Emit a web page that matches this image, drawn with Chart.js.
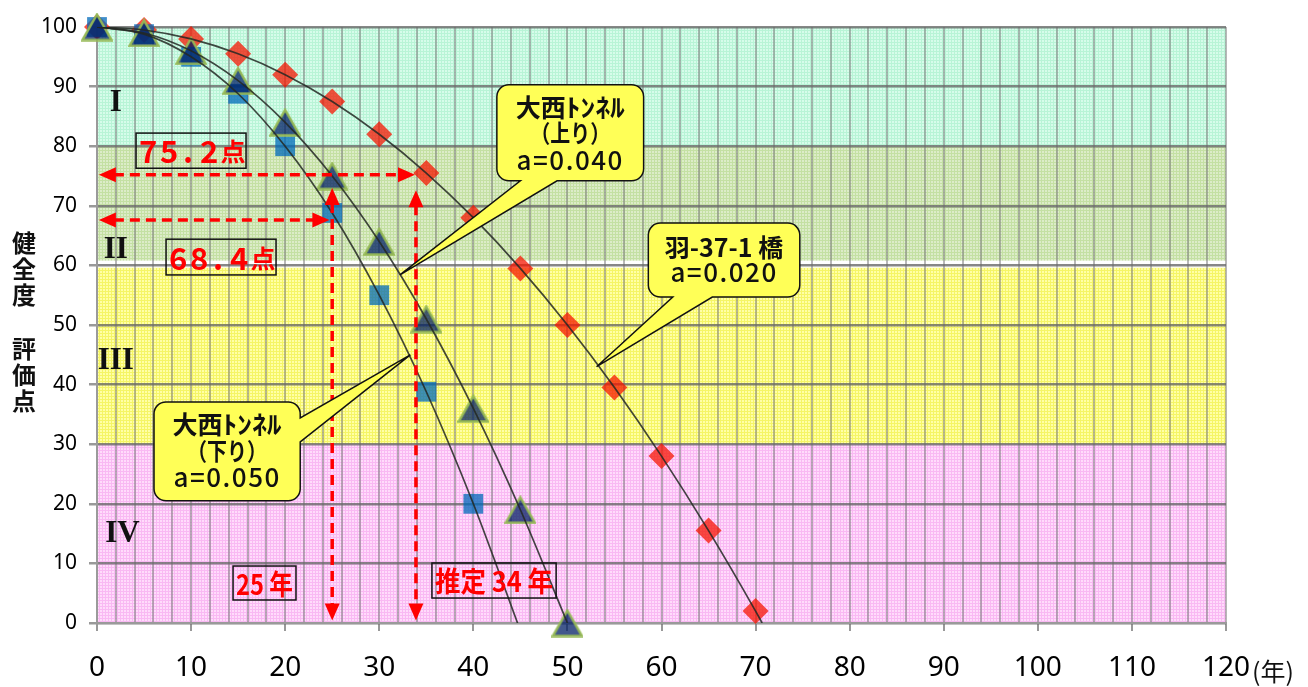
<!DOCTYPE html>
<html><head><meta charset="utf-8">
<script src="https://cdn.jsdelivr.net/npm/chart.js@4.4.1/dist/chart.umd.min.js"></script>
<style>html,body{margin:0;padding:0;background:#fff;}#wrap{width:1308px;height:687px;}</style>
</head><body><div id="wrap"><canvas id="c" width="1308" height="687"></canvas></div>
<script>
// ---- data ----
const years = [0,5,10,15,20,25,30,35,40,45,50,55,60,65,70];
const haneScores = [100,99.5,98,95.5,92,87.5,82,75.5,68,59.5,50,39.5,28,15.5,2];
const upYears = [0,5,10,15,20,25,30,35,40,45,50];
const upScores = [100,99,96,91,84,75,64,51,36,19,0];
const downYears = [0,5,10,15,20,25,30,35,40];
const downScores = [100,98.8,95,88.8,80,68.8,55,38.8,20];
const curveZeroYear = {hane: 70.7, down: 44.7};
const bandLabels = ['I','II','III','IV'];
const bandRanges = [[80,100],[60.8,80],[30,59.6],[0,30]];
const estimateScores = ['75.2','68.4'];
const estimateYears = ['25 年','推定 34 年'];
const calloutTexts = [
  [['大西','ﾄﾝﾈﾙ'],'（上り）','a=0.040'],
  [['羽-37-1 橋',''],'a=0.020'],
  [['大西','ﾄﾝﾈﾙ'],'（下り）','a=0.050']
];
const yTitle = ['健','全','度','評','価','点'];

function pts(xs, ys){ return xs.map((x,i)=>({x:x, y:ys[i]})); }
const haneCurve = pts(years, haneScores).concat([{x:curveZeroYear.hane, y:0}]);
const upCurve = pts(upYears, upScores);
const downCurve = pts(downYears, downScores).concat([{x:curveZeroYear.down, y:0}]);

// triangle marker image (centered like the original)
const tri = document.createElement('canvas');
tri.width = 32; tri.height = 29;
(function(){
  const g = tri.getContext('2d');
  g.beginPath(); g.moveTo(16,2); g.lineTo(30.5,27.5); g.lineTo(1.5,27.5); g.closePath();
  g.fillStyle = 'rgba(0,30,100,0.74)'; g.fill();
  g.lineWidth = 2.5; g.strokeStyle = 'rgba(150,185,85,0.95)'; g.stroke();
})();

const bandStyles = [
  {base:'#d6fcea', line:'#b8f4d6'},
  {base:'#dcecc8', line:'#c4e0a3'},
  {base:'#ffffa6', line:'#f5f566'},
  {base:'#ffdbfb', line:'#f9b9f3'}
];
function makePattern(ctx, base, line){
  const c = document.createElement('canvas'); c.width = 3; c.height = 3;
  const g = c.getContext('2d');
  g.fillStyle = base; g.fillRect(0,0,3,3);
  g.fillStyle = line; g.fillRect(0,0,3,1); g.fillRect(0,0,1,3);
  return ctx.createPattern(c, 'repeat');
}

function head(ctx, x, y, ang){
  const L = 17, W = 7.5;
  const bx = x - L*Math.cos(ang), by = y - L*Math.sin(ang);
  const px = -Math.sin(ang)*W, py = Math.cos(ang)*W;
  ctx.beginPath(); ctx.moveTo(x,y); ctx.lineTo(bx+px, by+py); ctx.lineTo(bx-px, by-py); ctx.closePath(); ctx.fill();
}
function arrow(ctx, x1, y1, x2, y2){
  const ang = Math.atan2(y2-y1, x2-x1), L = 15;
  ctx.save();
  ctx.strokeStyle = '#ff0000'; ctx.fillStyle = '#ff0000'; ctx.lineWidth = 3.5; ctx.setLineDash([10,6]);
  ctx.beginPath();
  ctx.moveTo(x1 + Math.cos(ang)*L, y1 + Math.sin(ang)*L);
  ctx.lineTo(x2 - Math.cos(ang)*L, y2 - Math.sin(ang)*L);
  ctx.stroke();
  ctx.setLineDash([]);
  head(ctx, x1, y1, ang + Math.PI);
  head(ctx, x2, y2, ang);
  ctx.restore();
}
function callout(ctx, x, y, w, h, r, side, a, b, tx, ty){
  ctx.beginPath();
  ctx.moveTo(x+r, y); ctx.lineTo(x+w-r, y); ctx.arcTo(x+w, y, x+w, y+r, r);
  if (side === 'right'){ ctx.lineTo(x+w, a); ctx.lineTo(tx, ty); ctx.lineTo(x+w, b); }
  ctx.lineTo(x+w, y+h-r); ctx.arcTo(x+w, y+h, x+w-r, y+h, r);
  if (side === 'bottom'){ ctx.lineTo(b, y+h); ctx.lineTo(tx, ty); ctx.lineTo(a, y+h); }
  ctx.lineTo(x+r, y+h); ctx.arcTo(x, y+h, x, y+h-r, r);
  ctx.lineTo(x, y+r); ctx.arcTo(x, y, x+r, y, r);
  ctx.closePath();
  ctx.fillStyle = '#ffff57'; ctx.fill();
  ctx.lineWidth = 1.5; ctx.strokeStyle = '#111'; ctx.stroke();
}
// title line: first part normal, second part (half-width kana) stretched horizontally
function titleLine(ctx, parts, cx, cy, font, stretch){
  ctx.font = font;
  const w1 = ctx.measureText(parts[0]).width;
  const w2 = parts[1] ? ctx.measureText(parts[1]).width * stretch : 0;
  const x0 = cx - (w1 + w2)/2;
  ctx.textAlign = 'left';
  ctx.fillText(parts[0], x0, cy);
  if (parts[1]) {
    ctx.save(); ctx.translate(x0 + w1, cy); ctx.scale(stretch, 1);
    ctx.fillText(parts[1], 0, 0); ctx.restore();
  }
  ctx.textAlign = 'center';
}

const JP = '"Noto Sans CJK JP", sans-serif';

const annot = {
  id: 'annot',
  beforeDraw(chart){
    const ctx = chart.ctx, xs = chart.scales.x, ys = chart.scales.y;
    const l = xs.getPixelForValue(0), r = xs.getPixelForValue(120);
    ctx.save();
    bandRanges.forEach((rg, i) => {
      const t = ys.getPixelForValue(rg[1]), b = ys.getPixelForValue(rg[0]);
      ctx.fillStyle = makePattern(ctx, bandStyles[i].base, bandStyles[i].line);
      ctx.fillRect(l, t, r-l, b-t);
    });
    ctx.restore();
  },
  afterDraw(chart){
    const ctx = chart.ctx, xs = chart.scales.x, ys = chart.scales.y;
    const X = v => xs.getPixelForValue(v), Y = v => ys.getPixelForValue(v);
    ctx.save();

    // Roman numerals
    ctx.fillStyle = '#111'; ctx.font = 'bold 31px "Liberation Serif", serif';
    ctx.textAlign = 'center'; ctx.textBaseline = 'middle';
    const romanPos = [[2.0,87.2],[2.0,62.6],[2.0,44.0],[2.7,15.0]];
    bandLabels.forEach((t,i) => ctx.fillText(t, X(romanPos[i][0]), Y(romanPos[i][1])));

    // dashed arrows
    arrow(ctx, X(0.2), Y(75.2), X(33.8), Y(75.2));
    arrow(ctx, X(0.2), Y(67.6), X(24.7), Y(67.6));
    arrow(ctx, X(25), Y(73), X(25), Y(0.4));
    arrow(ctx, X(33.9), Y(72.6), X(33.9), Y(0.4));

    // score boxes
    ctx.strokeStyle = '#111'; ctx.lineWidth = 1.5;
    const scoreBoxes = [[4.15,82.2,15.84,76.3],[7.34,64.4,19.03,58.4]];
    const offs = [12,33,52,73,97];
    scoreBoxes.forEach((bx, i) => {
      const x0 = X(bx[0]), y0 = Y(bx[1]), x1 = X(bx[2]), y1 = Y(bx[3]);
      ctx.strokeRect(x0, y0, x1-x0, y1-y0);
      const chars = (estimateScores[i] + '点').split('');
      const cy = (y0+y1)/2 + 1;
      ctx.fillStyle = '#ff0000'; ctx.textAlign = 'center'; ctx.textBaseline = 'middle';
      chars.forEach((c, k) => {
        ctx.font = (c === '点' ? 'bold 25px ' : 'bold 31px ') + JP;
        ctx.fillText(c, x0 + offs[k], cy);
      });
    });
    // year boxes
    const yearBoxes = [[14.46,9.56,21.15,3.86],[35.6,10.07,48.8,4.19]];
    yearBoxes.forEach((bx, i) => {
      const x0 = X(bx[0]), y0 = Y(bx[1]), x1 = X(bx[2]), y1 = Y(bx[3]);
      ctx.strokeRect(x0, y0, x1-x0, y1-y0);
      ctx.fillStyle = '#ff0000'; ctx.font = 'bold 28px ' + JP;
      ctx.textAlign = 'center'; ctx.textBaseline = 'middle';
      ctx.fillText(estimateYears[i], (x0+x1)/2, (y0+y1)/2 + 1, (x1-x0) - 6);
    });

    // callouts
    const co = [
      {box:[42.5,90.3,58.1,74.2], side:'bottom', a:45.0, b:48.9, tip:[32.2,58.4], lines:[23,48,75]},
      {box:[58.6,67.1,74.7,54.7], side:'bottom', a:61.2, b:65.4, tip:[53.1,43.0], lines:[24,49]},
      {box:[6.06,37.1,21.6,20.5], side:'right', a:34.4, b:30.4, tip:[33.3,45.0], lines:[23,49,75]}
    ];
    co.forEach((c, i) => {
      const x0 = X(c.box[0]), y0 = Y(c.box[1]), x1 = X(c.box[2]), y1 = Y(c.box[3]);
      const a = c.side === 'bottom' ? X(c.a) : Y(c.a);
      const b = c.side === 'bottom' ? X(c.b) : Y(c.b);
      callout(ctx, x0, y0, x1-x0, y1-y0, 12, c.side, a, b, X(c.tip[0]), Y(c.tip[1]));
      ctx.fillStyle = '#111'; ctx.textAlign = 'center'; ctx.textBaseline = 'middle';
      const cx = (x0+x1)/2;
      calloutTexts[i].forEach((t, k) => {
        const last = k === calloutTexts[i].length - 1;
        if (Array.isArray(t)) {
          titleLine(ctx, t, cx, y0 + c.lines[k], 'bold 25px ' + JP, 1.18);
        } else if (last) {
          ctx.font = '500 26px ' + JP;
          ctx.save(); ctx.letterSpacing = '1.5px';
          ctx.fillText(t, cx, y0 + c.lines[k]); ctx.restore();
        } else {
          ctx.font = 'bold 24px ' + JP;
          ctx.fillText(t, cx, y0 + c.lines[k], 80);
        }
      });
    });

    // y title (vertical)
    ctx.fillStyle = '#111'; ctx.font = 'bold 24px ' + JP;
    ctx.textAlign = 'center'; ctx.textBaseline = 'middle';
    const ty = [243,269,295,349,375,401];
    yTitle.forEach((c, k) => ctx.fillText(c, 24, ty[k]));

    // x unit
    ctx.font = '25px ' + JP; ctx.textAlign = 'left';
    ctx.fillText('(年)', X(120) + 26, 671);
    ctx.restore();
  }
};

const lineColor = 'rgba(35,40,35,0.85)';
new Chart(document.getElementById('c'), {
  type: 'scatter',
  data: { datasets: [
    {type:'line', showLine:true, data: haneCurve, borderColor: lineColor, borderWidth: 1.7, pointRadius: 0, cubicInterpolationMode:'monotone', fill:false, order:0},
    {type:'line', showLine:true, data: upCurve, borderColor: lineColor, borderWidth: 1.7, pointRadius: 0, cubicInterpolationMode:'monotone', fill:false, order:0},
    {type:'line', showLine:true, data: downCurve, borderColor: lineColor, borderWidth: 1.7, pointRadius: 0, cubicInterpolationMode:'monotone', fill:false, order:0},
    {data: pts(upYears, upScores), pointStyle: tri, pointRadius: 15, order: 1, clip: false},
    {data: pts(downYears, downScores), pointStyle: 'rect', pointRadius: 14, backgroundColor: 'rgba(0,105,185,0.75)', borderWidth: 0, order: 2, clip: false},
    {data: pts(years, haneScores), pointStyle: 'rectRot', pointRadius: 13, backgroundColor: 'rgba(245,20,0,0.74)', borderWidth: 0, order: 3, clip: false}
  ]},
  options: {
    responsive: false, animation: false, devicePixelRatio: 1,
    layout: { padding: { left: 0, right: 82, top: 27, bottom: 0 } },
    plugins: { legend: { display: false }, tooltip: { enabled: false } },
    scales: {
      x: {
        type: 'linear', min: 0, max: 120,
        afterFit: s => { s.height = 64; },
        ticks: { stepSize: 2, autoSkip: false, maxRotation: 0, padding: 20, color: '#000',
          font: { family: '"Noto Sans", sans-serif', size: 28 },
          callback: v => (v % 10 === 0 ? String(v) : '') },
        grid: { color: 'rgba(125,125,125,0.55)', lineWidth: 2, tickLength: 8,
          tickColor: c => (c.tick && c.tick.value % 10 === 0 ? '#999' : 'rgba(0,0,0,0)') },
        border: { display: true, color: '#9a9a9a', width: 2 }
      },
      y: {
        min: 0, max: 100,
        afterFit: s => { s.width = 97; },
        ticks: { stepSize: 10, padding: 12, color: '#000', font: { family: '"Noto Sans", sans-serif', size: 21 } },
        grid: { color: 'rgba(105,105,105,0.8)', lineWidth: 2.5, tickLength: 8, tickColor: '#999' },
        border: { display: true, color: '#9a9a9a', width: 2 }
      }
    }
  },
  plugins: [annot]
});
</script>
</body></html>
